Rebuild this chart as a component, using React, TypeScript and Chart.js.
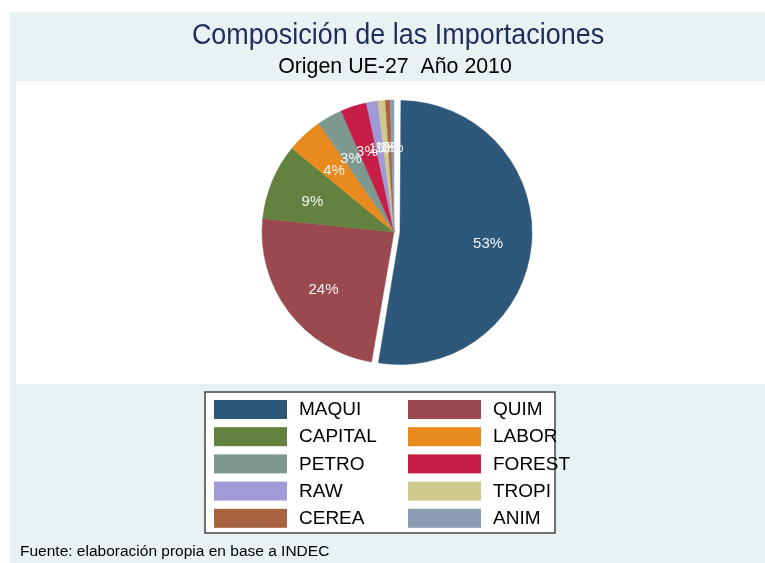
import React, { useEffect, useRef } from "react";
import { Chart, registerables } from "chart.js";

Chart.register(...registerables);

const categories = ["MAQUI", "QUIM", "CAPITAL", "LABOR", "PETRO", "FOREST", "RAW", "TROPI", "CEREA", "ANIM"];
const shares = [52.7, 23.9, 9.3, 4.4, 3.1, 3.2, 1.4, 0.9, 0.6, 0.45];
const colors = ["#2E5879", "#9A494E", "#64823F", "#E88A1C", "#7D988E", "#C71E47", "#A09AD6", "#D0C98C", "#A86440", "#8A9DB2"];
// explode distance in px (Chart.js divides arc offset by 4 when drawing)
const explode = [6, 0, 0, 0, 0, 0, 0, 0, 0, 0];
const titleText = "Composición de las Importaciones";
const subtitleText = "Origen UE-27  Año 2010";
const footerText = "Fuente: elaboración propia en base a INDEC";

const FONT = "'Liberation Sans', Arial, sans-serif";
const PIE_R = 132;

function drawScaledText(ctx: any, text: string, x: number, y: number, sx: number) {
  ctx.save();
  ctx.translate(x, y);
  ctx.scale(sx, 1);
  ctx.fillText(text, 0, 0);
  ctx.restore();
}

const decorPlugin = {
  id: "decor",
  beforeDraw(chart: any) {
    const ctx = chart.ctx;
    const W = chart.width, H = chart.height;
    ctx.save();
    ctx.fillStyle = "#FFFFFF";
    ctx.fillRect(0, 0, W, H);
    ctx.fillStyle = "#E9F1F3";
    ctx.fillRect(10, 12, W - 10, H - 12);
    ctx.fillStyle = "#FFFFFF";
    ctx.fillRect(16, 81, W - 16, 303);
    // titles
    ctx.textAlign = "center";
    ctx.textBaseline = "middle";
    ctx.fillStyle = "#1F2D5C";
    ctx.font = `29px ${FONT}`;
    drawScaledText(ctx, titleText, 398, 36, 0.93);
    ctx.fillStyle = "#000000";
    ctx.font = `22px ${FONT}`;
    drawScaledText(ctx, subtitleText, 395, 67, 0.97);
    // footer
    ctx.textAlign = "left";
    ctx.font = `15.5px ${FONT}`;
    ctx.fillText(footerText, 20, 552);
    // legend
    const bx = 205, by = 392, bw = 350, bh = 141;
    ctx.fillStyle = "#FFFFFF";
    ctx.fillRect(bx, by, bw, bh);
    ctx.strokeStyle = "#444444";
    ctx.lineWidth = 1.5;
    ctx.strokeRect(bx, by, bw, bh);
    const labels = chart.data.labels as string[];
    const bg = chart.data.datasets[0].backgroundColor as string[];
    ctx.font = `19px ${FONT}`;
    ctx.textBaseline = "middle";
    labels.forEach((lab, i) => {
      const col = i % 2;
      const row = Math.floor(i / 2);
      const sx = col === 0 ? 214 : 408;
      const sy = 400 + row * 27.2;
      ctx.fillStyle = bg[i];
      ctx.fillRect(sx, sy, 73, 19);
      ctx.fillStyle = "#000000";
      ctx.fillText(lab, sx + 85, sy + 10);
    });
    ctx.restore();
  },
  beforeDatasetsDraw(chart: any) {
    // keep exploded slices at the same radius as the rest (Chart.js grows large exploded arcs)
    const meta = chart.getDatasetMeta(0);
    meta.data.forEach((el: any, i: number) => {
      const circ = el.endAngle - el.startAngle;
      const fix = 1 - Math.sin(Math.min(Math.PI, circ));
      el.outerRadius = PIE_R - (explode[i] || 0) * fix;
    });
  },
};

const pctLabelPlugin = {
  id: "pctLabels",
  afterDatasetsDraw(chart: any) {
    const ctx = chart.ctx;
    const meta = chart.getDatasetMeta(0);
    const data = chart.data.datasets[0].data as number[];
    const total = data.reduce((a, b) => a + b, 0);
    ctx.save();
    ctx.fillStyle = "#F4F4F4";
    ctx.font = `15px ${FONT}`;
    ctx.textAlign = "center";
    ctx.textBaseline = "middle";
    meta.data.forEach((el: any, i: number) => {
      const mid = (el.startAngle + el.endAngle) / 2;
      const r = 0.67 * PIE_R + (explode[i] || 0);
      const x = el.x + Math.cos(mid) * r;
      const y = el.y + Math.sin(mid) * r + 4;
      ctx.fillText(`${Math.round((data[i] / total) * 100)}%`, x, y);
    });
    ctx.restore();
  },
};

export default function App() {
  const ref = useRef<HTMLCanvasElement | null>(null);
  useEffect(() => {
    if (!ref.current) return;
    const chart = new Chart(ref.current, {
      type: "pie",
      data: {
        labels: categories,
        datasets: [
          {
            data: shares,
            backgroundColor: colors,
            borderColor: colors,
            borderWidth: 0.5,
            offset: explode.map((e) => e * 4),
          },
        ],
      },
      options: {
        responsive: false,
        animation: false,
        radius: PIE_R,
        layout: { padding: { left: 150, right: 127, top: 90, bottom: 189 } },
        plugins: {
          legend: { display: false },
          tooltip: { enabled: false },
          title: { display: false },
        },
        events: [],
      } as any,
      plugins: [decorPlugin, pctLabelPlugin],
    });
    return () => chart.destroy();
  }, []);
  return (
    <div style={{ position: "absolute", left: 0, top: 0, width: 765, height: 563 }}>
      <canvas ref={ref} width={765} height={563} style={{ width: 765, height: 563, display: "block" }} />
    </div>
  );
}
